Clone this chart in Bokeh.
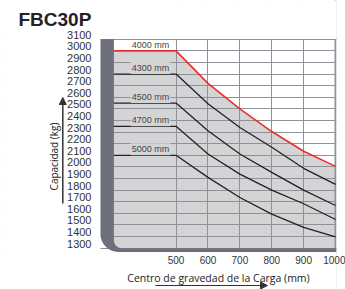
import numpy as np
from bokeh.plotting import figure
from bokeh.models import Range1d, FixedTicker, Label, Arrow, NormalHead, Span
from bokeh.core.properties import value
from bokeh.embed import file_html
from bokeh.resources import INLINE

# ---- data ----
title_text = "FBC30P"
x_label = "Centro de gravedad de la Carga (mm)"
y_label = "Capacidad (kg)"
load_center = [300, 500, 600, 700, 800, 900, 1000]
lift_heights = ["4000 mm", "4300 mm", "4500 mm", "4700 mm", "5000 mm"]
cap_4000 = [3000, 3000, 2720, 2500, 2305, 2135, 2005]
cap_4300 = [2800, 2800, 2545, 2340, 2170, 1988, 1850]
cap_4500 = [2550, 2550, 2312, 2111, 1953, 1800, 1668]
cap_4700 = [2350, 2350, 2111, 1938, 1800, 1683, 1547]
cap_5000 = [2100, 2100, 1910, 1737, 1593, 1480, 1398]
x_ticks = [500, 600, 700, 800, 900, 1000]
y_ticks = [1300, 1400, 1500, 1600, 1700, 1800, 1900, 2000, 2100, 2200,
           2300, 2400, 2500, 2600, 2700, 2800, 2900, 3000, 3100]

# ---- geometry / style ----
W, H = 345, 289
X0, X1 = 263, 1003          # chart box in data units
Y0, Y1 = 1268, 3103
CL, CT = 100, 38.4          # chart box left/top in pixels
CW, CH = 236, 213           # chart box size in pixels
sx = CW / (X1 - X0)
sy = CH / (Y1 - Y0)
XR = (X0 - CL / sx, X0 + (W - CL) / sx)
YR = (Y1 - (H - CT) / sy, Y1 + CT / sy)
LAB_SHIFT = 4.5 / sy        # y tick labels sit a little above their grid lines


def dx(px):
    return X0 + (px - CL) / sx


def dy(py):
    return Y1 - (py - CT) / sy


MAST_IN = 305
BASE_IN = 1300
DARK = "#6d707c"
LIGHT = "#d4d4d6"
GRID = "#8e909a"
RED = "#e8302a"
BLACK = "#222222"

p = figure(width=W, height=H,
           x_range=Range1d(*XR), y_range=Range1d(*YR),
           output_backend="svg", toolbar_location=None,
           min_border=0, min_border_left=0, min_border_right=0,
           min_border_top=0, min_border_bottom=0)
p.extra_y_ranges = {"lab": Range1d(YR[0] - LAB_SHIFT, YR[1] - LAB_SHIFT)}
p.outline_line_color = None
p.background_fill_color = "white"
p.border_fill_color = "white"

# axes drawn at the chart box edges
p.xaxis.fixed_location = Y0 + 4 / sy
p.yaxis.fixed_location = X0
p.yaxis[0].y_range_name = "lab"
for ax in (p.xaxis[0], p.yaxis[0]):
    ax.axis_line_color = None
    ax.major_tick_line_color = None
    ax.minor_tick_line_color = None
    ax.major_label_text_color = "#333333"
    ax.major_label_text_font = "Liberation Sans"
p.xaxis.ticker = FixedTicker(ticks=x_ticks)
p.yaxis.ticker = FixedTicker(ticks=y_ticks)
p.yaxis.major_label_text_font_size = "11px"
p.yaxis.major_label_standoff = 3
p.xaxis.major_label_text_font_size = "10px"
p.xaxis.major_label_standoff = 2

# grid
p.xgrid.ticker = FixedTicker(ticks=x_ticks)
p.ygrid.ticker = FixedTicker(ticks=y_ticks)
for g in (p.xgrid[0], p.ygrid[0]):
    g.grid_line_color = GRID
    g.grid_line_width = 1

p.add_layout(Span(location=1000, dimension="height", line_color=GRID,
                  line_width=2, level="underlay"))

# light fill under the 4000 mm curve
p.varea(x=load_center, y1=BASE_IN, y2=cap_4000, fill_color=LIGHT, level="image")

# white masks outside the chart box (hide grid lines there)
p.quad(left=[XR[0], X1, X0, X0], right=[X0, XR[1], X1, X1],
       bottom=[YR[0], YR[0], Y1, YR[0]], top=[YR[1], YR[1], YR[1], Y0],
       fill_color="white", line_color=None)

# curves
series = [cap_4000, cap_4300, cap_4500, cap_4700, cap_5000]
colors = [RED, BLACK, BLACK, BLACK, BLACK]
widths = [1.6, 1.3, 1.3, 1.3, 1.3]
for cap, c, w in zip(series, colors, widths):
    p.line(load_center, cap, line_color=c, line_width=w)

# dark mast / base frame with rounded corner
Ro, Ri = 18, 8
t = np.linspace(np.pi, 1.5 * np.pi, 20)
cxo, cyo = X0 + Ro / sx, Y0 + Ro / sy
ox = cxo + (Ro / sx) * np.cos(t)
oy = cyo + (Ro / sy) * np.sin(t)
cxi, cyi = MAST_IN + Ri / sx, BASE_IN + Ri / sy
ix = cxi + (Ri / sx) * np.cos(t[::-1])
iy = cyi + (Ri / sy) * np.sin(t[::-1])
px = [X0] + list(ox) + [1002, 1002] + list(ix) + [MAST_IN]
py = [3100] + list(oy) + [Y0, BASE_IN] + list(iy) + [3100]
p.patch(px, py, fill_color=DARK, line_color=None)

# curve labels
flat = [s[0] for s in series]
p.text(x=[420], y=flat[:1], text=lift_heights[:1], text_font=value("Liberation Sans"),
       text_font_size="9px", text_align="center", text_baseline="middle",
       text_color="#444444", y_offset=-6)
p.text(x=[420] * 4, y=flat[1:], text=lift_heights[1:], text_font=value("Liberation Sans"),
       text_font_size="9px", text_align="center", text_baseline="middle",
       text_color="#444444", y_offset=-6,
       background_fill_color=LIGHT, padding=1)

# title and axis labels
p.add_layout(Label(x=dx(18), y=dy(18.5), text=title_text, text_font="Liberation Sans",
                   text_font_size="19px", text_font_style="bold", text_color="#222222",
                   text_baseline="middle"))
p.add_layout(Label(x=dx(53), y=dy(156), text=y_label, angle=np.pi / 2, text_font="Open Sans",
                   text_font_size="10px", text_color="#222222",
                   text_align="center", text_baseline="middle"))
p.add_layout(Label(x=dx(218), y=dy(277.5), text=x_label, text_font="Open Sans",
                   text_font_size="10.5px", text_color="#222222",
                   text_align="center", text_baseline="middle"))
p.add_layout(Arrow(end=NormalHead(size=7, fill_color="#333333", line_color="#333333"),
                   x_start=dx(62.3), y_start=dy(203), x_end=dx(62.3), y_end=dy(97),
                   line_color="#333333", line_width=1.5))
p.add_layout(Arrow(end=NormalHead(size=7, fill_color="#333333", line_color="#333333"),
                   x_start=dx(155), y_start=dy(285), x_end=dx(267), y_end=dy(285),
                   line_color="#333333", line_width=1.2))

open("out.html", "w").write(file_html(p, INLINE))
